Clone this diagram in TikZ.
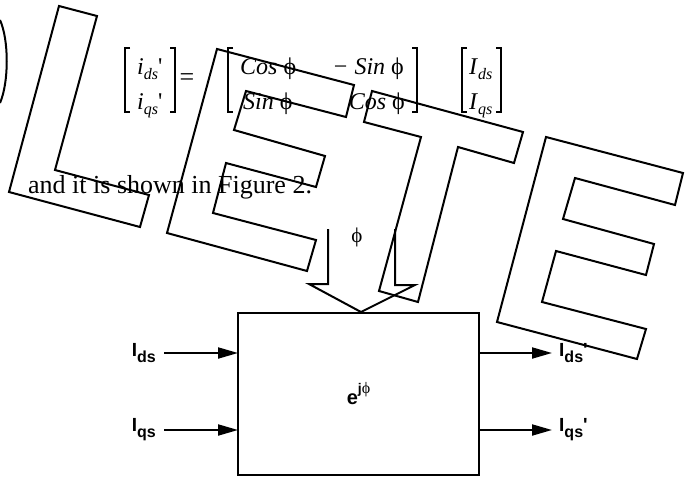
\documentclass[tikz,border=0pt]{standalone}
\usepackage{fontspec}
\setmainfont{Liberation Serif}
\newfontfamily\blockfont{Liberation Sans}
\usetikzlibrary{positioning,arrows.meta}

% lowered subscripts, serif (equation) and sans (block diagram)
\newcommand{\eqsub}[1]{\raisebox{-5pt}{\fontsize{16}{16}\selectfont\textit{#1}}}
\newcommand{\blksub}[1]{\raisebox{-6pt}{\fontsize{16}{16}\selectfont #1}}

\begin{document}
\begin{tikzpicture}[
  x=1pt, y=-1pt,
  >={Triangle[length=20pt,width=11pt]},
  stamp/.style={line width=2pt, line join=miter},
  bracket/.style={line width=1.4pt},
  eq text/.style={inner sep=0pt, font=\fontsize{24}{24}\selectfont},
  body text/.style={inner sep=0pt, font=\fontsize{26}{26}\selectfont},
  block/.style={draw, line width=2pt, minimum width=241pt, minimum height=162pt,
    inner sep=0pt, font=\blockfont\bfseries\fontsize{20}{20}\selectfont},
  sig/.style={->, line width=2pt},
  sig label/.style={inner sep=0pt, font=\blockfont\bfseries\fontsize{19}{19}\selectfont}
]
  \useasboundingbox (0,0) rectangle (689,477);

  % rotation equation
  \draw[bracket] (130,48) -| (125,112) -- ++(5,0);
  \draw[bracket] (170,48) -| (175,112) -- ++(-5,0);
  \node[eq text, anchor=base west] (ids) at (137,74) {\textit{i}\eqsub{ds}\textquotesingle};
  \node[eq text, anchor=base west] (iqs) at (137,109) {\textit{i}\eqsub{qs}\textquotesingle};
  \node[eq text, font=\fontsize{26}{26}\selectfont] (eq) at (187,80) {=};
  \draw[bracket] (233,48) -| (228,112) -- ++(5,0);
  \draw[bracket] (412,48) -| (417,112) -- ++(-5,0);
  \node[eq text, anchor=base west] (a11) at (240,74) {\textit{Cos} ϕ};
  \node[eq text, anchor=base east] (a12) at (404,74) {−\hspace{7pt}\textit{Sin} ϕ};
  \node[eq text, anchor=base west] (a21) at (243,109) {\textit{Sin} ϕ};
  \node[eq text, anchor=base east] (a22) at (405,109) {\textit{Cos} ϕ};
  \draw[bracket] (467,48) -| (462,112) -- ++(5,0);
  \draw[bracket] (496,48) -| (501,112) -- ++(-5,0);
  \node[eq text, anchor=base west] (Ids0) at (469,74) {\textit{I}\eqsub{ds}};
  \node[eq text, anchor=base west] (Iqs0) at (469,109) {\textit{I}\eqsub{qs}};

  \node[body text, anchor=base west] (txt) at (28,193) {and it is shown in Figure 2.};

  % block diagram
  \node[block] (rot) at (358.5,394) {e\raisebox{11pt}{\fontsize{14}{14}\selectfont j\mdseries\rmfamily\fontsize{16}{16}\selectfont ϕ}};
  \coordinate (inD) at (238,353);
  \coordinate (inQ) at (238,430);
  \coordinate (outD) at (479,353);
  \coordinate (outQ) at (479,430);
  \node[sig label, left=82pt of inD] (Id) {I\blksub{ds}};
  \node[sig label, left=82pt of inQ] (Iq) {I\blksub{qs}};
  \node[sig label, right=80pt of outD] (Idp) {I\blksub{ds}\textquotesingle};
  \node[sig label, right=80pt of outQ] (Iqp) {I\blksub{qs}\textquotesingle};
  \draw[sig] (Id.east) ++(8,0) -- (inD);
  \draw[sig] (Iq.east) ++(8,0) -- (inQ);
  \draw[sig] (outD) -- ([xshift=-7pt]Idp.west);
  \draw[sig] (outQ) -- ([xshift=-7pt]Iqp.west);

  % phase input (open block arrow)
  \node[eq text, font=\fontsize{21}{21}\selectfont] (phi) at (357,237) {ϕ};
  \coordinate (tip) at ([xshift=2.5pt]rot.north);
  \draw[line width=2pt] (328,229) -- (328,284) -- (309,284) -- (tip)
    -- (415,285) -- (395,285) -- (395,229);

  % OBSOLETE stamp outlines
  \draw[stamp] (0,20) .. controls (9,40) and (9,82) .. (0,103);
  \draw[stamp] (59,6) -- (97,16) -- (55,170) -- (149,195) -- (140,227) -- (9,192) -- cycle;
  \draw[stamp] (217,49) -- (354,85) -- (346,117) -- (246,91) -- (234,130) -- (325,156)
    -- (316,187) -- (226,163) -- (213,213) -- (316,240) -- (307,271) -- (167,233) -- cycle;
  \draw[stamp] (372,91) -- (523,132) -- (514,163) -- (458,147) -- (418,302) -- (379,291)
    -- (421,137) -- (364,122) -- cycle;
  \draw[stamp] (546,137) -- (683,173) -- (675,205) -- (575,178) -- (563,219) -- (654,244)
    -- (646,275) -- (556,251) -- (542,302) -- (646,329) -- (637,359) -- (497,322) -- cycle;
\end{tikzpicture}
\end{document}
